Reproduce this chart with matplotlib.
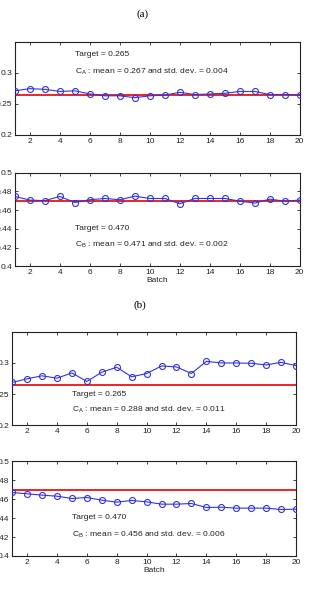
import numpy as np
import matplotlib
matplotlib.use("Agg")
import matplotlib.pyplot as plt

plt.rcParams['font.family'] = ['Liberation Sans', 'DejaVu Sans']
plt.rcParams['mathtext.fontset'] = 'custom'
plt.rcParams['mathtext.rm'] = 'Liberation Sans'

batch = np.arange(1, 21)

# (a) controlled run
ca_a = [0.271, 0.2745, 0.2734, 0.270, 0.271, 0.266, 0.263, 0.263, 0.260, 0.263,
        0.264, 0.2686, 0.265, 0.266, 0.267, 0.270, 0.270, 0.265, 0.265, 0.264]
cb_a = [0.4745, 0.4706, 0.470, 0.4745, 0.468, 0.471, 0.4723, 0.471, 0.4748, 0.4723,
        0.4723, 0.4667, 0.4723, 0.4723, 0.4723, 0.4695, 0.4674, 0.4716, 0.4695, 0.4706]
# (b) uncontrolled run
ca_b = [0.2686, 0.2745, 0.2793, 0.2755, 0.284, 0.2702, 0.2851, 0.2931, 0.2777, 0.283,
        0.2952, 0.2936, 0.283, 0.3027, 0.300, 0.300, 0.2995, 0.2968, 0.301, 0.2957]
cb_b = [0.4669, 0.4655, 0.4641, 0.463, 0.4606, 0.4616, 0.4588, 0.4567, 0.4585, 0.457,
        0.4546, 0.4546, 0.4553, 0.4511, 0.4514, 0.4504, 0.4504, 0.4504, 0.449, 0.4493]

target_a = 0.265
target_b = 0.470

fig = plt.figure(figsize=(3.10, 5.97), dpi=100)

def painel(pos, y, target, ylim, yticks, yticklabels, txt_y, comp, stats, batch_label):
    ax = fig.add_axes(pos)
    ax.axhline(target, color='#ee1111', lw=1.3, zorder=2)
    ax.plot(batch, y, color='#3333dd', lw=0.8, marker='o', ms=4.3,
            mfc='none', mec='#3333dd', mew=0.8, zorder=3)
    ax.set_xlim(1, 20)
    ax.set_ylim(*ylim)
    ax.set_xticks(np.arange(2, 21, 2))
    ax.set_yticks(yticks)
    ax.set_yticklabels(yticklabels)
    ax.tick_params(direction='in', top=True, right=True, labelsize=6,
                   length=2.5, width=0.6, pad=2, colors='#222222')
    for s in ax.spines.values():
        s.set_linewidth(0.8)
        s.set_color('#222222')
    ax.text(5.0, txt_y[0], 'Target = %.3f' % target, fontsize=6, va='center', color='#222222')
    ax.text(5.0, txt_y[1], r'C$_\mathregular{%s}$ : mean = %.3f and std. dev. = %.3f' % (comp, stats[0], stats[1]),
            fontsize=6.1, va='center', color='#222222')
    if batch_label:
        ax.set_xlabel('Batch', fontsize=6, labelpad=1, color='#222222')
    return ax

painel([0.048, 0.774, 0.919, 0.156], ca_a, target_a, (0.2, 0.35), [0.2, 0.25, 0.3],
       ['0.2', '0.25', '0.3'], (0.329, 0.3015), 'A', (0.267, 0.004), False)
painel([0.048, 0.554, 0.919, 0.157], cb_a, target_b, (0.4, 0.5), [0.4, 0.42, 0.44, 0.46, 0.48, 0.5],
       ['0.4', '0.42', '0.44', '0.46', '0.48', '0.5'], (0.4408, 0.4227), 'B', (0.471, 0.002), True)
painel([0.039, 0.288, 0.916, 0.156], ca_b, target_a, (0.2, 0.35), [0.2, 0.25, 0.3],
       ['0.2', '0.25', '0.3'], (0.25, 0.2245), 'A', (0.288, 0.011), False)
painel([0.039, 0.0687, 0.916, 0.159], cb_b, target_b, (0.4, 0.5), [0.4, 0.42, 0.44, 0.46, 0.48, 0.5],
       ['0.4', '0.42', '0.44', '0.46', '0.48', '0.5'], (0.4405, 0.4225), 'B', (0.456, 0.006), True)

fig.text(143 / 310, 1 - 14 / 597, '(a)', family='Liberation Serif', fontsize=8, ha='center', va='center')
fig.text(140 / 310, 1 - 305 / 597, '(b)', family='Liberation Serif', fontsize=8, ha='center', va='center')

fig.savefig('out.png', dpi=100)
